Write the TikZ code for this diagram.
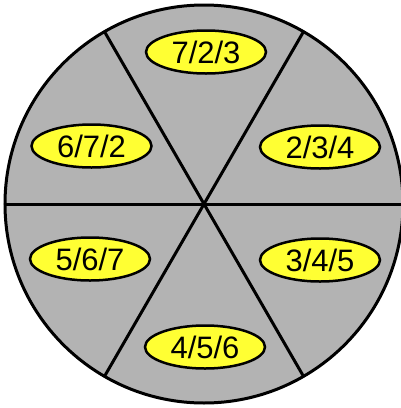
\documentclass[tikz,border=0pt]{standalone}
\usepackage{fontspec}
\setmainfont{Liberation Sans}
\usetikzlibrary{shapes.geometric,calc}
\definecolor{sectorgray}{RGB}{179,179,179}
\definecolor{labelyellow}{RGB}{255,255,51}
\begin{document}
\begin{tikzpicture}[x=1pt,y=-1pt,
  lbl/.style={ellipse, draw=black, line width=2.5pt, fill=labelyellow,
    minimum width=120pt, minimum height=43pt, inner sep=0pt,
    font=\fontsize{31}{31}\selectfont},
  spoke/.style={draw=black, line width=3pt}]
\useasboundingbox (0,0) rectangle (401,408);
\coordinate (c) at (204,204);
\draw[fill=sectorgray, line width=3pt] (c) circle (199);
\foreach \a/\n in {0/p0,60/p60,120/p120,180/p180,240/p240,300/p300}{
  \coordinate (\n) at ($(c)+(\a:199)$);
}
\draw[spoke] (p0) -- (p180);
\draw[spoke] (p60) -- (p240);
\draw[spoke] (p120) -- (p300);
\node[lbl] (a) at (206,52) {7/2/3};
\node[lbl] (b) at (91.5,146) {6/7/2};
\node[lbl] (d) at (320,147) {2/3/4};
\node[lbl] (e) at (90,259) {5/6/7};
\node[lbl] (f) at (320,260) {3/4/5};
\node[lbl] (g) at (205,347) {4/5/6};
\end{tikzpicture}
\end{document}
